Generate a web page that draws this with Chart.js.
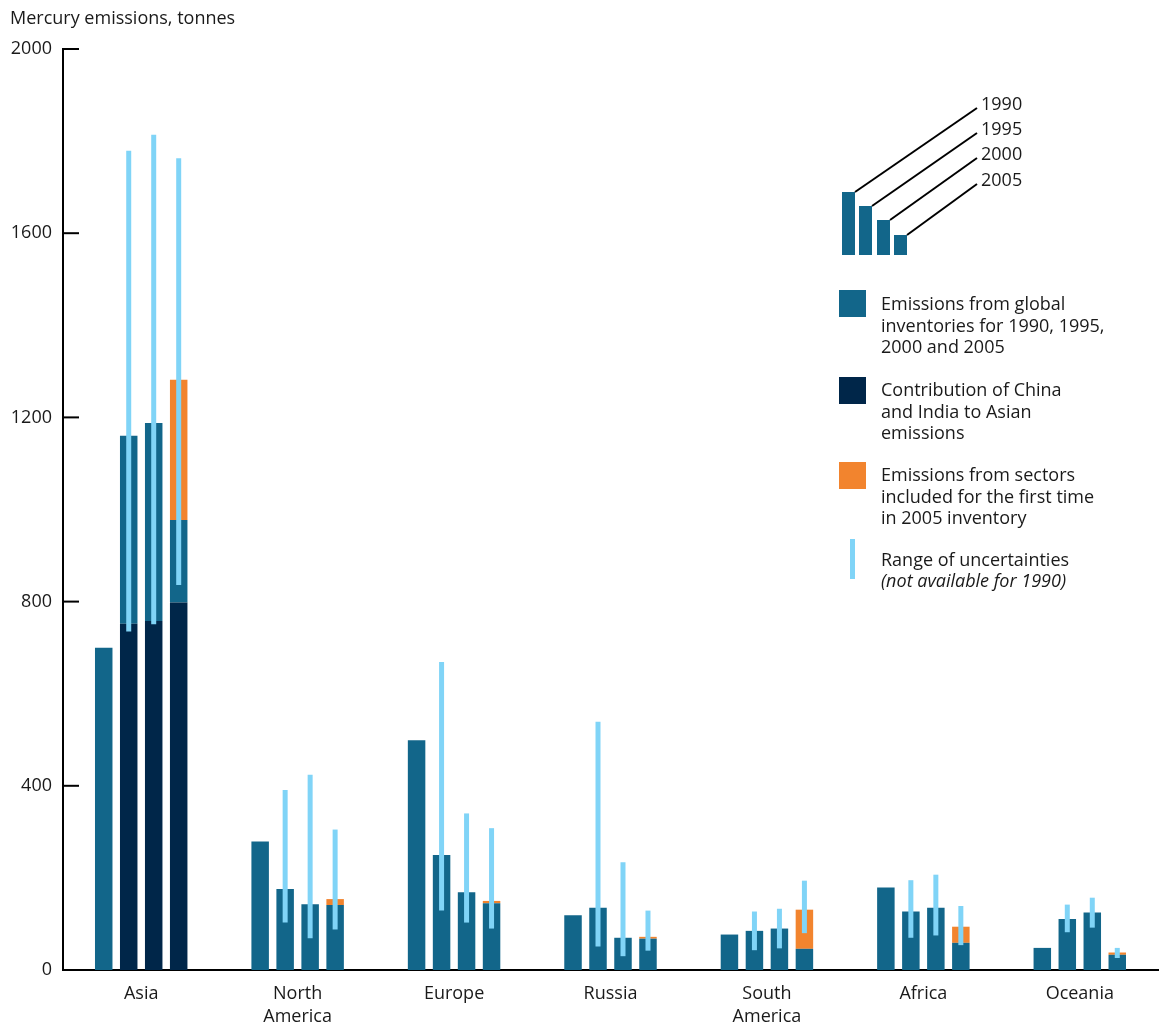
<!DOCTYPE html>
<html>
<head>
<meta charset="utf-8">
<script src="https://cdn.jsdelivr.net/npm/chart.js@4.4.1/dist/chart.umd.min.js"></script>
<style>
  html, body { margin: 0; padding: 0; background: #fff; }
  canvas { display: block; }
</style>
</head>
<body>
<canvas id="mercury-Chart" width="1162" height="1023"></canvas>
<script>
// 地域（x軸）
const regions = ["Asia", ["North", "America"], "Europe", "Russia", ["South", "America"], "Africa", "Oceania"];
const years = ["1990", "1995", "2000", "2005"];

// global inventory totals, tonnes (without new 2005 sectors)
const inventory1990 = [700, 279, 499, 119, 77, 179, 48];
const inventory1995 = [1160, 176, 250, 135, 85, 127, 111];
const inventory2000 = [1188, 143, 169, 70, 90, 135, 125];
const inventory2005 = [977, 141, 145, 68, 46, 59, 33];

// China + India part of the Asian bars
const chinaIndia1990 = [0, 0, 0, 0, 0, 0, 0];
const chinaIndia1995 = [752, 0, 0, 0, 0, 0, 0];
const chinaIndia2000 = [758, 0, 0, 0, 0, 0, 0];
const chinaIndia2005 = [798, 0, 0, 0, 0, 0, 0];

// sectors included for the first time in 2005
const newSectors2005 = [305, 13, 5, 4, 85, 35, 5];

// range of uncertainties [low, high] (none for 1990)
const uncertainty1995 = [[735, 1779], [103, 391], [129, 669], [51, 539], [43, 127], [70, 195], [82, 142]];
const uncertainty2000 = [[751, 1814], [69, 424], [103, 340], [30, 234], [47, 133], [75, 207], [92, 157]];
const uncertainty2005 = [[836, 1763], [88, 305], [90, 308], [42, 129], [80, 194], [54, 139], [26, 48]];

const yTicks = [0, 400, 800, 1200, 1600, 2000];

const TEAL = "#12668a";
const NAVY = "#002649";
const ORANGE = "#f2842e";
const SKY = "#80d4f7";
const INK = "#1a1a1a";
const FONT = "'Open Sans'";

const inventories = [inventory1990, inventory1995, inventory2000, inventory2005];
const chinaIndia = [chinaIndia1990, chinaIndia1995, chinaIndia2000, chinaIndia2005];
const uncertainties = [null, uncertainty1995, uncertainty2000, uncertainty2005];

const datasets = [];
// 不確実性バー（一番上に描く）
years.forEach((yr, i) => {
  datasets.push({
    label: "uncertainty " + yr,
    data: uncertainties[i] ? uncertainties[i] : regions.map(() => null),
    backgroundColor: SKY,
    stack: yr,
    yAxisID: "y2",
    order: -1,
    maxBarThickness: 5,
  });
});
years.forEach((yr, i) => {
  datasets.push({
    label: "China and India " + yr,
    data: chinaIndia[i].map((v) => v || null),
    backgroundColor: NAVY,
    stack: yr,
  });
  datasets.push({
    label: "inventory " + yr,
    data: inventories[i].map((v, k) => v - chinaIndia[i][k]),
    backgroundColor: TEAL,
    stack: yr,
  });
});
datasets.push({
  label: "new sectors 2005",
  data: newSectors2005,
  backgroundColor: ORANGE,
  stack: "2005",
});

const legendItems = [
  { color: TEAL, lines: ["Emissions from global", "inventories for 1990, 1995,", "2000 and 2005"] },
  { color: NAVY, lines: ["Contribution of China", "and India to Asian", "emissions"] },
  { color: ORANGE, lines: ["Emissions from sectors", "included for the first time", "in 2005 inventory"] },
];

const decorPlugin = {
  id: "decor",
  afterDraw(chart) {
    const { ctx, chartArea, scales: { y } } = chart;
    ctx.save();

    // 内向きの目盛り
    ctx.strokeStyle = "#000";
    ctx.lineWidth = 2;
    yTicks.forEach((v) => {
      const py = y.getPixelForValue(v);
      ctx.beginPath();
      ctx.moveTo(chartArea.left, py);
      ctx.lineTo(chartArea.left + 16, py);
      ctx.stroke();
    });

    // title
    ctx.fillStyle = INK;
    ctx.textBaseline = "middle";
    ctx.textAlign = "left";
    ctx.font = "18px " + FONT;
    ctx.fillText("Mercury emissions, tonnes", 10, 19);

    // year key
    const keyBars = [[842, 192], [859, 206], [877, 220], [894, 235]];
    const keyLabelY = [105, 130, 155, 181];
    keyBars.forEach(([bx, by], i) => {
      ctx.fillStyle = TEAL;
      ctx.fillRect(bx, by, 13, 255 - by);
      ctx.strokeStyle = "#000";
      ctx.lineWidth = 2;
      ctx.beginPath();
      ctx.moveTo(bx + 13, by);
      ctx.lineTo(977, keyLabelY[i] + 3);
      ctx.stroke();
      ctx.fillStyle = INK;
      ctx.font = "18px " + FONT;
      ctx.fillText(years[i], 981, keyLabelY[i]);
    });

    // legend
    ctx.font = "18px " + FONT;
    const swatchTop = [290, 377, 462];
    const lineTop = [305, 391, 476];
    legendItems.forEach((item, i) => {
      ctx.fillStyle = item.color;
      ctx.fillRect(839, swatchTop[i], 27, 27);
      ctx.fillStyle = INK;
      item.lines.forEach((t, k) => ctx.fillText(t, 881, lineTop[i] + k * 21.5));
    });
    ctx.fillStyle = SKY;
    ctx.fillRect(850, 539, 5, 40);
    ctx.fillStyle = INK;
    ctx.fillText("Range of uncertainties", 881, 561);
    ctx.font = "italic 18px " + FONT;
    ctx.fillText("(not available for 1990)", 881, 582);

    ctx.restore();
  },
};

document.addEventListener("DOMContentLoaded", () => {
  const ctx = document.getElementById("mercury-Chart");
  if (!ctx) {
    console.error("Canvas element not found");
    return;
  }
  new Chart(ctx, {
    type: "bar",
    data: { labels: regions, datasets },
    options: {
      responsive: false,
      animation: false,
      layout: { padding: { top: 49, right: 4, left: 0, bottom: 0 } },
      datasets: {
        bar: { categoryPercentage: 0.639, barPercentage: 0.7, borderWidth: 0 },
      },
      plugins: {
        legend: { display: false },
        tooltip: { enabled: false },
      },
      scales: {
        x: {
          stacked: true,
          grid: { display: false, drawTicks: false },
          border: { display: true, color: "#000", width: 2 },
          ticks: {
            color: INK,
            font: { family: FONT, size: 18, lineHeight: 1.28 },
            padding: 12,
            maxRotation: 0,
          },
          afterFit(scale) {
            scale.height = 53;
          },
        },
        y: {
          stacked: true,
          min: 0,
          max: 2000,
          grid: { display: false, drawTicks: false },
          border: { display: true, color: "#000", width: 2 },
          ticks: {
            stepSize: 400,
            color: INK,
            font: { family: FONT, size: 18 },
            padding: 11,
            callback: (v) => String(v),
          },
          afterFit(scale) {
            scale.width = 63;
          },
        },
        y2: { display: false, stacked: false, min: 0, max: 2000 },
      },
    },
    plugins: [decorPlugin],
  });
});
</script>
</body>
</html>
